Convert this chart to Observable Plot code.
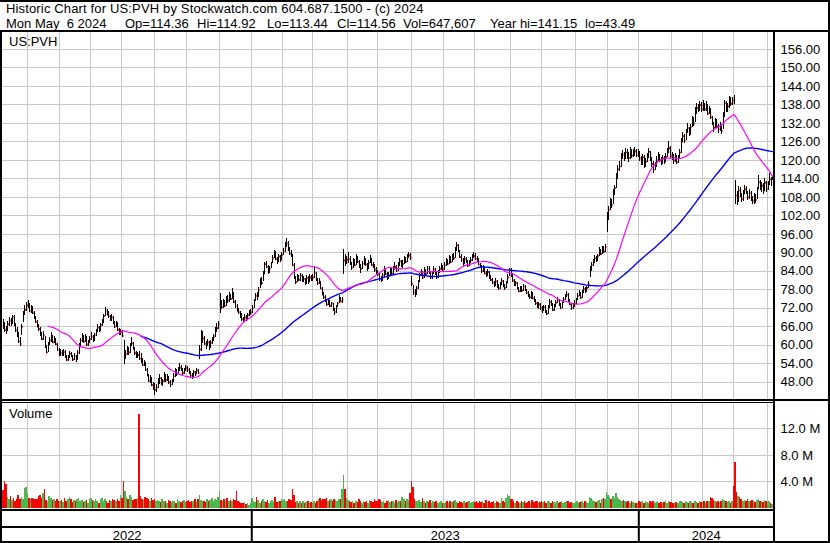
<!DOCTYPE html>
<html><head><meta charset="utf-8">
<script src="https://cdn.jsdelivr.net/npm/d3@7"></script>
<script src="https://cdn.jsdelivr.net/npm/@observablehq/plot@0.6"></script>
<style>
html,body{margin:0;padding:0;background:#fff;}
#wrap{position:relative;width:830px;height:543px;overflow:hidden;font-family:"Liberation Sans",Arial,sans-serif;color:#000;background:#fff;}
.t{position:absolute;font-size:13px;line-height:15px;white-space:pre;}
.ln{position:absolute;background:#000;}
.p{position:absolute;left:0;}
.p svg{display:block;}
</style></head><body>
<div id="wrap">
  <div class="t" style="left:6px;top:1px;letter-spacing:0.15px">Historic Chart for US:PVH by Stockwatch.com 604.687.1500 - (c) 2024</div>
  <div class="t" style="left:6px;top:16px">Mon May  6 2024</div>
  <div class="t" style="left:125px;top:16px">Op=114.36</div>
  <div class="t" style="left:197px;top:16px">Hi=114.92</div>
  <div class="t" style="left:267px;top:16px">Lo=113.44</div>
  <div class="t" style="left:337px;top:16px">Cl=114.56</div>
  <div class="t" style="left:403px;top:16px">Vol=647,607</div>
  <div class="t" style="left:490px;top:16px">Year hi=141.15</div>
  <div class="t" style="left:585px;top:16px">lo=43.49</div>
  <div class="p" id="price" style="top:32px"></div>
  <div class="p" id="volume" style="top:403px"></div>
  <div class="p" id="strip" style="top:509px"></div>
  <div class="t" style="left:9px;top:34px">US:PVH</div>
  <div class="t" style="left:9px;top:406px">Volume</div>
  <div class="ln" style="left:0;top:0;width:830px;height:2px"></div>
  <div class="ln" style="left:0;top:30px;width:830px;height:2px"></div>
  <div class="ln" style="left:0;top:30px;width:2px;height:513px"></div>
  <div class="ln" style="left:773px;top:30px;width:2px;height:513px"></div>
  <div class="ln" style="left:828px;top:0;width:2px;height:543px"></div>
  <div class="ln" style="left:0;top:399px;width:830px;height:2px"></div>
  <div class="ln" style="left:0;top:402px;width:775px;height:1px"></div>
  <div class="ln" style="left:0;top:509px;width:775px;height:2px"></div>
  <div class="ln" style="left:0;top:526px;width:775px;height:2px"></div>
  <div class="ln" style="left:0;top:541px;width:830px;height:2px"></div>
</div>
<script>
// ---- calendar structure (trading days per month, May 2022 .. May 2024) ----
const monthDays = [16,21,20,20,21,21,21,21, 20,19,23,19,22,21,20,23,20,22,21,20, 21,20,20,22,4];
const years = ["2022","2023","2024"];
const monthsPerYear = [8,12,5];
const priceTicks = [48,54,60,66,72,78,84,90,96,102,108,114,120,126,132,138,144,150,156];
const volTicks = [4,8,12];

// ---- daily close ----
const cl = [
66.5,65.0,64.8,66.8,68.0,67.0,69.2,66.5,64.8,63.5,61.2,60.4,66.0,70.2,71.5,72.8,
73.0,71.0,72.2,70.5,68.8,67.6,66.0,65.3,63.6,62.0,63.2,59.5,57.6,60.2,61.5,62.4,61.0,62.0,60.3,58.5,57.2,
57.5,56.8,57.8,56.2,55.3,56.0,57.2,56.4,55.4,56.6,55.0,57.6,59.5,61.5,62.6,61.2,62.8,60.2,60.8,62.0,
62.8,61.5,63.4,64.6,65.8,64.5,66.6,67.4,69.5,71.2,70.0,69.4,68.4,69.0,67.2,66.0,67.0,65.0,63.6,64.4,
63.0,56.0,57.2,58.5,57.6,59.8,60.6,58.8,57.5,56.4,56.8,55.6,54.8,53.6,54.5,52.0,50.2,48.5,49.2,47.0,46.2,
45.5,46.3,47.8,49.3,47.4,48.4,50.2,48.7,49.6,48.0,47.2,48.2,50.0,51.4,50.7,52.0,52.8,52.3,51.0,51.8,52.6,
52.0,51.0,50.2,49.6,51.2,50.5,51.8,51.0,58.6,61.5,62.2,60.5,59.9,61.0,59.2,60.8,61.5,62.8,64.8,65.5,66.8,
73.5,72.4,74.0,72.8,75.0,74.5,76.2,75.0,76.8,74.0,72.6,71.2,70.7,69.6,68.4,67.8,69.0,68.2,69.7,70.5,70.6,
72.0,74.5,76.0,75.2,78.0,81.0,80.2,83.0,86.4,85.5,83.5,84.8,86.5,88.2,89.9,88.0,87.0,88.8,87.6,89.4,
90.5,92.0,93.0,91.0,89.8,89.1,86.0,82.0,80.5,82.0,81.2,82.6,80.8,81.5,80.2,81.8,80.6,82.0,81.2,
82.0,83.4,81.4,80.2,80.8,78.4,76.5,75.6,74.4,73.2,74.5,72.8,73.6,71.5,70.8,72.3,73.6,75.0,74.2,74.6,87.5,86.8,87.8,
88.0,86.4,85.2,87.4,86.0,88.2,87.0,85.4,84.8,86.5,87.6,86.2,85.0,86.8,87.8,86.0,85.9,84.5,83.6,
83.0,81.5,81.0,82.6,84.3,83.0,81.8,82.6,84.0,83.2,84.8,85.4,84.2,86.0,87.2,85.8,86.4,88.0,87.0,88.6,89.2,88.5,
80.0,77.2,76.7,78.5,80.5,82.6,83.8,82.0,84.4,83.0,84.8,83.6,82.0,83.4,84.6,83.3,82.0,83.8,84.8,85.5,84.6,
86.0,87.2,86.4,88.5,87.0,89.0,88.2,91.0,92.4,90.5,88.6,87.6,86.5,88.0,87.0,85.8,86.8,87.6,88.8,89.0,
88.0,87.6,86.2,85.4,84.0,85.0,83.3,82.6,83.8,82.0,81.2,80.4,79.6,80.8,79.0,78.4,79.6,80.8,79.1,78.6,80.2,82.0,84.3,
82.8,81.0,79.6,80.2,78.5,77.5,78.6,77.8,79.1,78.0,77.0,76.2,75.6,76.8,75.2,74.5,73.6,72.5,73.2,72.0,
71.2,72.4,71.0,70.2,72.0,74.0,73.2,71.5,72.6,73.8,74.5,73.0,72.2,73.6,74.8,75.6,76.5,74.6,73.2,72.0,72.8,73.6,
74.6,76.0,76.6,75.5,77.0,78.2,77.4,78.6,79.8,84.5,86.0,86.8,88.2,87.4,89.0,90.5,89.6,91.2,90.4,92.0,100.0,
104.0,106.5,105.6,109.5,111.0,114.2,117.1,118.0,121.0,121.9,120.5,122.6,121.0,120.8,122.8,121.5,122.0,123.0,121.6,122.4,
120.7,118.8,121.0,118.3,119.6,121.0,122.8,120.2,118.8,117.0,118.3,120.0,121.4,120.0,119.0,120.6,119.5,121.2,122.6,124.0,121.5,
121.0,120.0,121.4,119.4,120.8,122.6,126.0,127.8,126.5,129.0,130.4,128.5,130.8,133.1,132.0,135.5,137.0,136.5,138.0,136.6,
138.0,136.5,137.8,135.2,136.5,134.0,132.0,130.7,132.6,131.0,130.0,131.4,129.6,134.5,138.6,136.0,137.5,139.9,138.4,139.5,
138.6,108.6,106.5,110.2,108.8,107.4,109.0,110.6,109.7,108.0,109.4,107.6,106.9,108.2,107.2,110.5,112.9,111.0,111.8,110.2,112.8,110.8,
112.5,113.8,112.4,114.56
];

// ---- daily high ----
const hi = [
68.2,67.3,66.0,67.6,69.0,68.8,69.8,69.5,67.0,65.6,64.2,62.5,66.8,71.0,73.0,73.8,
74.6,73.4,72.8,72.6,71.0,69.2,68.0,66.8,65.6,64.0,64.4,62.8,59.8,60.8,62.4,64.2,63.0,62.8,62.2,60.6,59.0,
58.6,58.2,58.6,58.4,56.8,56.8,58.0,57.8,56.8,57.4,56.8,58.2,60.4,62.2,63.8,63.0,63.4,62.9,61.6,62.8,
64.0,63.2,63.8,65.2,66.6,66.2,67.2,68.4,70.0,72.2,71.6,70.8,69.8,70.0,69.4,67.8,67.8,67.4,65.4,65.0,
64.8,61.6,58.4,59.6,59.2,60.4,62.6,60.8,59.4,58.0,57.6,58.0,57.2,55.6,55.0,54.4,52.4,50.6,50.2,49.4,47.8,
47.6,47.4,49.2,50.4,49.6,49.0,51.0,50.6,50.6,49.8,48.6,49.0,50.8,52.4,52.0,52.8,54.0,53.4,52.6,52.6,53.4,
53.0,52.4,51.6,50.8,51.8,51.6,52.4,52.2,60.0,64.8,64.6,62.8,61.2,61.8,61.2,61.6,62.4,63.6,65.6,67.2,67.6,
76.8,74.4,75.0,74.6,75.8,76.0,77.2,76.6,78.4,77.0,74.6,73.2,72.0,71.0,70.2,69.0,70.0,69.6,70.4,71.2,71.6,
72.8,75.0,76.8,77.0,78.6,81.8,82.0,83.8,87.0,87.2,86.0,85.6,87.0,89.0,90.8,90.4,88.6,89.6,89.2,90.2,
91.4,93.2,94.6,93.6,91.6,90.6,89.4,86.4,82.4,82.8,82.6,83.4,82.8,82.2,81.8,82.6,82.2,82.8,82.6,
82.8,85.4,83.6,81.8,81.6,80.8,78.8,77.0,76.0,74.8,75.0,74.6,74.0,73.6,72.0,72.8,74.0,76.0,75.6,75.4,91.2,89.6,88.8,
90.2,88.8,86.8,88.0,87.8,89.6,88.8,87.4,86.2,87.2,88.8,88.0,86.6,87.4,89.0,88.2,87.0,86.2,85.2,
84.2,83.4,82.4,83.4,85.4,84.6,83.6,83.6,85.0,84.8,85.6,86.8,86.0,86.8,88.2,87.6,87.4,88.8,88.6,89.6,90.2,89.8,
82.4,79.4,78.2,79.0,81.0,83.4,84.6,83.8,85.2,84.6,85.6,85.4,83.8,84.0,85.4,85.0,83.6,84.4,85.6,86.4,86.0,
86.8,88.0,87.8,89.2,88.8,89.6,89.8,91.6,93.4,92.8,90.8,89.4,88.2,88.8,88.6,87.4,87.6,88.4,89.6,90.2,
89.8,88.8,88.0,86.6,85.8,85.8,85.2,83.8,84.6,84.0,82.6,81.6,80.8,81.6,81.0,79.8,80.4,81.6,81.0,79.8,80.8,82.8,85.0,
84.8,83.2,81.4,80.8,80.4,78.8,79.2,79.0,79.8,79.4,78.2,77.4,76.6,77.4,77.0,75.8,75.0,74.0,73.8,73.4,
72.6,73.0,72.8,71.4,72.8,74.8,74.6,73.4,73.2,74.4,75.6,75.0,73.6,74.2,75.4,76.4,77.6,76.8,75.0,73.6,73.6,74.4,
75.2,76.8,77.8,77.0,77.8,79.0,78.6,79.2,80.6,85.4,87.0,87.8,89.0,88.8,89.6,91.6,91.0,92.0,92.0,92.8,103.2,
105.0,107.6,107.4,110.4,112.0,115.6,118.4,119.6,122.4,123.2,122.6,123.8,123.4,122.6,124.2,123.6,123.4,124.2,123.4,123.6,
123.0,121.4,122.0,121.6,120.6,122.4,123.8,123.0,120.8,119.6,119.4,121.2,122.6,122.0,120.8,121.6,121.2,122.4,123.8,126.0,124.4,
122.6,121.8,122.4,121.6,121.6,123.4,127.2,129.0,128.4,130.0,132.0,130.8,131.6,134.2,133.8,137.2,138.6,138.2,139.2,138.8,
139.4,138.6,139.0,138.2,137.6,136.8,134.4,132.4,133.6,133.2,131.6,132.4,131.8,135.4,139.6,139.2,138.4,140.6,140.4,140.4,
141.15,113.6,109.8,111.6,111.2,109.4,110.2,111.8,111.6,110.0,110.4,109.8,108.4,109.2,109.0,111.2,115.0,113.4,112.8,112.4,114.2,113.2,
113.2,115.6,114.4,114.92
];

// ---- daily low ----
const lo = [
65.0,64.2,63.4,64.5,66.2,66.0,66.8,66.0,64.0,62.4,60.5,59.6,63.0,67.5,69.8,71.0,
72.0,70.6,70.4,70.0,68.2,67.0,65.6,64.6,62.8,61.4,61.6,59.0,57.2,57.8,59.8,61.0,60.4,60.6,59.8,58.0,56.4,
56.4,56.2,56.4,55.8,54.6,54.8,55.6,56.0,54.8,55.0,54.3,55.2,57.0,59.2,61.0,60.6,60.8,59.6,59.6,60.4,
61.4,61.0,61.2,62.8,64.2,64.0,64.4,66.2,67.0,69.2,69.6,68.8,67.8,67.8,66.8,65.4,65.6,64.6,63.2,63.0,
62.4,53.6,55.4,56.6,56.8,57.2,59.6,58.4,56.8,55.6,55.8,55.0,54.2,53.0,53.2,51.6,49.8,47.8,47.6,46.6,45.4,
43.6,44.8,46.0,47.4,46.8,46.6,48.0,48.0,48.2,47.4,46.2,46.8,48.0,49.6,50.0,50.4,51.4,51.6,50.2,50.4,51.4,
51.2,50.6,49.6,49.0,49.4,50.0,50.4,50.4,55.4,58.0,60.6,59.8,58.6,59.6,58.4,58.8,60.2,61.2,62.6,64.2,65.0,
70.4,71.6,72.0,72.2,72.6,73.6,74.0,74.6,74.8,73.6,72.0,70.8,70.0,68.8,67.8,67.2,67.4,67.6,68.0,69.4,69.8,
70.2,72.0,74.2,74.6,75.6,78.4,79.4,80.6,83.0,84.8,82.8,83.2,84.8,86.4,88.0,87.4,86.2,86.8,86.8,87.4,
89.2,90.2,91.8,90.4,89.0,88.4,85.6,81.2,79.8,80.2,80.6,80.8,80.2,80.4,79.4,79.8,79.8,80.4,80.6,
80.8,81.6,80.8,79.4,79.6,78.0,76.0,75.0,73.8,72.6,72.8,72.2,72.4,71.0,69.6,70.4,72.2,73.4,73.8,73.6,83.0,85.6,86.2,
86.6,86.0,84.4,85.0,85.4,85.8,86.4,84.8,83.4,84.6,86.0,85.6,84.0,84.6,86.4,85.4,84.8,83.6,82.8,
82.2,80.6,80.2,80.6,82.0,82.6,81.0,81.4,82.4,82.6,83.0,84.2,83.6,84.0,85.6,85.2,85.0,86.2,86.4,87.0,88.0,87.6,
79.2,76.0,75.6,76.2,78.0,80.2,82.4,81.4,81.6,82.4,83.0,83.0,81.4,81.2,83.0,82.6,81.2,81.6,83.4,84.4,84.0,
84.2,85.6,85.8,86.2,86.6,87.0,87.6,88.0,90.4,90.0,88.2,86.8,85.6,86.2,86.4,85.2,85.4,86.4,87.2,88.2,
87.6,86.8,85.8,84.8,83.4,83.6,82.8,82.0,82.2,81.4,80.6,79.8,78.8,79.2,78.4,77.8,78.2,79.4,78.6,77.8,78.4,80.0,82.2,
82.0,80.4,79.0,79.0,78.0,77.0,77.2,77.2,77.4,77.6,76.4,75.6,74.8,75.0,74.8,74.0,73.0,71.8,71.6,71.4,
70.4,70.8,70.4,69.6,70.0,71.8,72.6,71.0,71.0,72.2,73.6,72.6,71.6,71.8,73.4,74.6,75.6,74.0,72.8,71.2,71.6,72.4,
73.2,74.4,75.8,75.0,75.2,76.8,76.8,77.0,78.4,82.0,84.0,85.6,86.6,86.8,87.2,88.8,89.0,89.4,89.8,90.2,96.6,
100.6,103.6,104.4,105.8,108.6,110.8,113.8,116.4,117.6,120.4,119.6,120.2,120.2,119.4,120.4,120.6,120.8,121.4,120.8,121.0,
119.6,118.2,118.4,117.4,117.8,119.2,120.6,119.6,117.8,115.8,116.6,117.8,119.8,119.4,118.4,118.6,118.8,119.2,120.8,122.2,120.6,
120.0,118.8,119.4,118.6,119.0,120.4,122.4,125.8,125.6,126.4,128.6,127.6,128.0,130.6,131.0,132.4,134.8,135.4,136.0,135.4,
135.8,136.0,136.0,134.6,134.8,133.4,131.2,129.2,130.2,130.4,128.6,129.4,128.4,130.0,134.0,135.4,135.6,137.0,137.6,137.8,
138.2,105.6,105.4,106.4,108.0,106.2,106.8,108.8,109.0,107.0,107.4,106.8,105.6,105.8,106.0,107.4,110.4,110.2,109.6,109.0,110.0,109.6,
110.2,111.8,111.6,113.44
];

// ---- daily volume (millions) ----
const vol = [
2.7,4.0,3.6,1.6,1.3,1.8,1.2,1.5,1.1,1.4,1.9,1.3,1.7,1.4,3.0,3.1,
2.2,1.5,1.4,1.5,1.3,1.4,1.3,1.8,2.0,1.5,2.2,2.9,1.2,0.9,1.8,1.5,1.2,1.3,1.0,1.4,1.1,
1.0,1.2,0.9,1.5,1.0,1.3,1.6,1.4,0.9,1.2,1.0,1.3,1.5,1.1,1.2,0.9,1.0,1.2,0.8,1.3,
1.5,1.2,1.0,1.4,1.1,0.8,1.3,1.5,1.0,1.3,1.1,0.8,1.2,1.0,1.4,1.2,1.0,1.3,1.1,2.0,
1.5,4.0,2.6,1.6,1.3,1.9,1.6,1.2,1.4,1.3,1.5,14.2,1.8,1.4,1.2,1.6,1.5,1.3,1.1,1.5,1.2,
1.4,1.0,1.2,1.0,0.9,1.3,1.0,1.1,0.8,1.2,1.0,0.9,1.1,1.0,0.8,1.3,1.0,0.9,1.1,1.2,0.9,
1.0,1.2,0.9,1.0,1.1,1.3,0.9,1.4,2.0,1.2,1.0,1.1,0.9,1.3,1.0,1.2,1.5,1.1,1.3,1.2,1.6,
2.6,1.2,1.0,1.3,1.1,1.5,1.0,1.2,1.0,1.4,1.2,2.5,1.1,0.9,0.8,0.7,0.9,0.6,0.7,0.5,0.8,
1.5,1.0,0.9,1.6,1.2,0.8,1.0,1.4,1.1,0.9,1.2,0.8,1.0,1.2,0.9,1.6,0.9,1.1,1.0,1.3,
1.2,1.4,1.0,1.1,1.3,1.2,2.9,1.9,0.9,1.1,0.7,1.0,0.8,1.0,0.7,0.9,1.1,0.8,0.9,
0.8,1.0,0.7,1.1,1.3,1.5,1.2,1.4,1.3,1.5,1.1,1.2,1.4,1.0,1.3,1.2,1.1,1.4,1.3,2.8,5.0,2.8,1.5,
1.2,1.0,0.9,1.1,0.8,1.0,0.9,1.3,1.0,0.8,1.1,0.9,1.0,0.8,1.2,1.0,0.9,1.4,1.1,
1.0,1.3,1.2,0.9,1.1,0.8,1.0,1.2,0.9,1.1,1.0,0.8,1.2,0.9,1.1,1.0,1.6,1.4,1.1,1.3,1.2,2.3,
4.0,3.1,1.4,1.1,1.0,1.2,0.9,1.5,1.1,0.8,1.0,0.9,1.2,0.8,1.0,0.9,1.1,0.7,0.9,1.0,0.8,
0.7,0.9,1.0,0.8,1.1,0.9,1.0,1.2,0.9,0.8,1.0,0.9,0.7,1.0,0.8,0.9,1.1,0.8,0.9,1.0,
0.9,1.0,0.8,1.1,0.9,1.0,0.8,1.2,0.9,1.0,0.8,0.9,1.1,0.8,1.0,0.9,0.8,1.5,1.0,0.9,1.5,2.1,1.8,
1.3,1.4,1.0,0.8,1.1,0.9,0.8,1.0,0.9,1.1,0.8,0.9,1.0,0.8,1.2,0.9,1.0,1.1,0.8,0.9,
1.0,0.9,1.1,0.8,1.0,0.9,0.8,1.1,0.9,0.7,1.0,0.8,0.9,1.0,0.8,0.9,1.1,1.0,0.8,0.9,0.7,0.8,
0.9,1.0,0.8,0.9,1.1,0.8,1.0,0.9,0.7,1.6,1.5,1.2,1.0,0.9,1.1,1.2,0.8,1.3,1.5,1.4,2.4,
2.0,1.6,1.3,1.8,1.5,2.2,1.7,1.3,1.2,1.0,1.2,1.0,0.9,1.1,0.8,1.0,0.9,0.8,0.7,0.8,
1.0,0.9,1.1,0.8,1.0,0.9,0.8,1.0,0.9,1.1,0.8,0.9,1.0,0.8,0.9,0.7,0.9,1.0,0.8,1.1,0.9,
0.9,0.8,0.7,0.9,0.8,1.0,1.1,0.9,0.8,1.0,0.9,0.8,1.1,0.9,0.8,1.0,0.9,0.8,1.0,0.9,
0.9,1.0,0.8,1.1,1.0,1.6,1.5,1.2,1.0,0.9,1.1,0.9,1.0,1.3,1.2,1.0,0.9,1.0,0.8,1.1,
3.3,7.0,2.4,1.8,1.6,1.3,1.1,1.2,1.0,1.3,1.1,1.0,1.2,1.1,0.9,1.2,1.3,1.0,1.1,0.9,1.2,1.0,
0.9,1.0,0.8,0.65
];

// ---------------------------------------------------------------
const N = cl.length;
const RED = "#ff0000", GREEN = "#4db84d", GRAY = "#a0a0a0", GRID = "#c8c8c8";
const data = cl.map((c, i) => ({
  i, cl: c, hi: hi[i], lo: lo[i], vol: vol[i],
  col: i === 0 ? RED : c > cl[i - 1] ? GREEN : c < cl[i - 1] ? RED : GRAY
}));
function movingAvg(k) {
  const out = [];
  for (let i = k - 1; i < N; i++) out.push({i, v: d3.mean(cl.slice(i - k + 1, i + 1))});
  return out;
}
const monthStart = [];
{ let acc = 0; for (const n of monthDays) { monthStart.push(acc); acc += n; } }
const gridX = monthStart.slice(1).map(s => s - 0.5);
const yearStart = [];
{ let m = 0; for (const c of monthsPerYear) { yearStart.push(monthStart[m]); m += c; } }
const yearBounds = yearStart.slice(1).map(s => s - 0.5);
const yearLabels = years.map((y, k) => ({
  label: y, x: (yearStart[k] + (k + 1 < yearStart.length ? yearStart[k + 1] : N)) / 2 - 0.5
}));

const xOpt = {domain: [-0.5, N - 0.5], range: [2, 773], axis: null};
const style = {fontFamily: "'Liberation Sans', Arial, sans-serif", fontSize: "13px", color: "#000", background: "transparent", overflow: "visible"};

const price = Plot.plot({
  width: 830, height: 367, marginLeft: 2, marginRight: 57, marginTop: 0, marginBottom: 0,
  x: xOpt,
  y: {domain: [42.38, 161.52], range: [367, 0], axis: null, label: null},
  style,
  marks: [
    Plot.ruleY(priceTicks, {stroke: GRID, strokeWidth: 1, shapeRendering: "crispEdges"}),
    Plot.ruleX(gridX, {stroke: GRID, strokeWidth: 1, shapeRendering: "crispEdges"}),
    Plot.ruleY(data, {y: "cl", x1: d => d.i + 0.2, x2: d => d.i + 1.0, stroke: RED, strokeWidth: 2}),
    Plot.ruleX(data, {x: "i", y1: "lo", y2: "hi", stroke: "#000", strokeWidth: 1, shapeRendering: "crispEdges"}),
    Plot.line(movingAvg(90), {x: "i", y: "v", stroke: "#0000ff", strokeWidth: 1.4}),
    Plot.line(movingAvg(30), {x: "i", y: "v", stroke: "#ff00ff", strokeWidth: 1.2}),
    Plot.axisY(priceTicks, {anchor: "right", label: null, tickSize: 0, tickPadding: 7, tickFormat: d => d.toFixed(2), fontSize: 13})
  ]
});
document.getElementById("price").appendChild(price);

const volume = Plot.plot({
  width: 830, height: 106, marginLeft: 2, marginRight: 57, marginTop: 0, marginBottom: 0,
  x: xOpt,
  y: {domain: [0, 15.81], range: [105, 0], axis: null, label: null},
  color: {type: "identity"},
  style,
  marks: [
    Plot.ruleY(volTicks, {stroke: GRID, strokeWidth: 1, shapeRendering: "crispEdges"}),
    Plot.ruleX(gridX, {stroke: GRID, strokeWidth: 1, shapeRendering: "crispEdges"}),
    Plot.rect(data, {x1: d => d.i - 0.5, x2: d => d.i + 0.5, y1: 0, y2: "vol", fill: "col", shapeRendering: "crispEdges"}),
    Plot.axisY(volTicks, {anchor: "right", label: null, tickSize: 0, tickPadding: 7, tickFormat: d => d.toFixed(1) + " M", fontSize: 13})
  ]
});
document.getElementById("volume").appendChild(volume);

const strip = Plot.plot({
  width: 830, height: 34, marginLeft: 2, marginRight: 57, marginTop: 0, marginBottom: 0,
  x: xOpt,
  style,
  marks: [
    Plot.ruleX(yearBounds, {stroke: "#000", strokeWidth: 2}),
    Plot.text(yearLabels, {x: "x", text: "label", frameAnchor: "top", dy: 26, lineAnchor: "middle", fontSize: 13, fill: "#000"})
  ]
});
document.getElementById("strip").appendChild(strip);
</script>
</body></html>
